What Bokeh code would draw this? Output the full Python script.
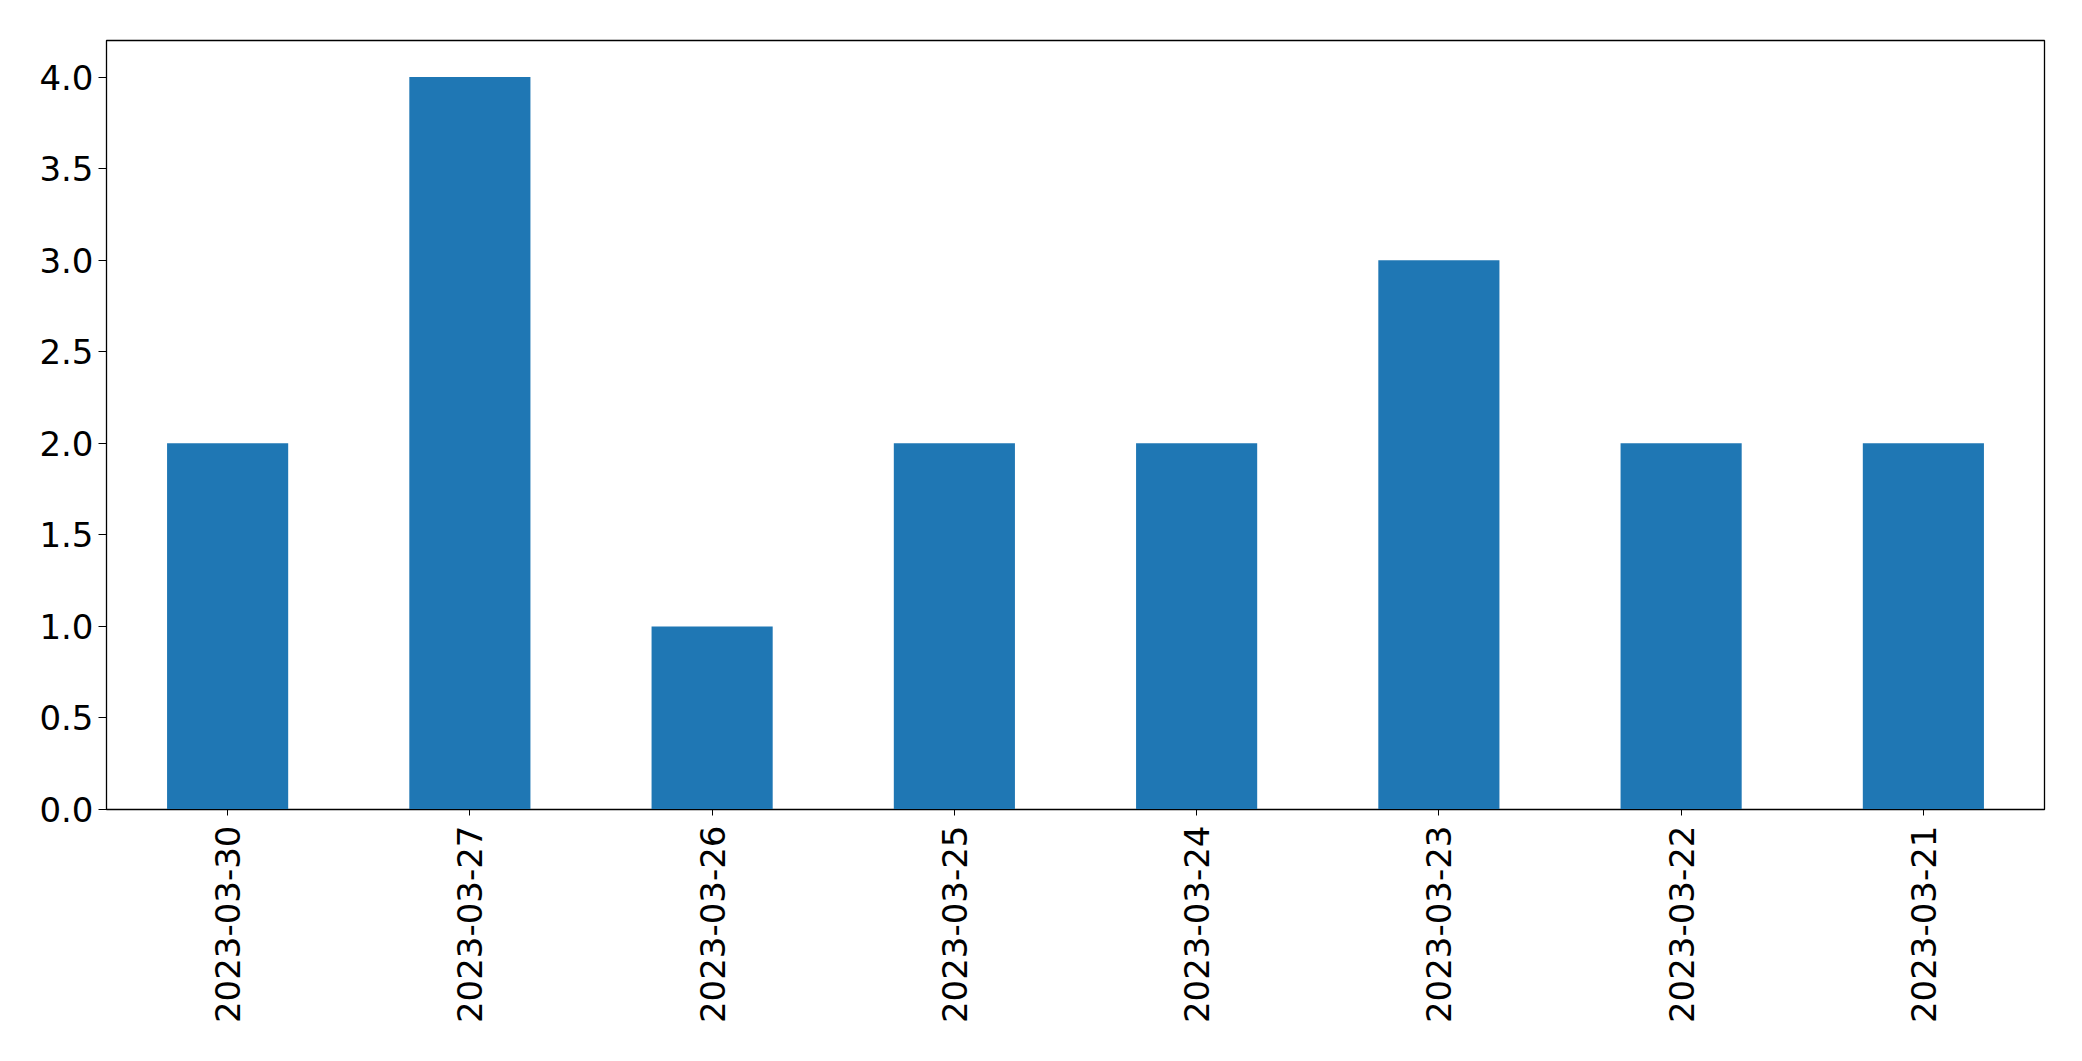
from bokeh.plotting import figure
from bokeh.models import Range1d, FactorRange, NumeralTickFormatter, FixedTicker
from bokeh.embed import file_html
from bokeh.resources import INLINE
import math

dates = ["2023-03-30", "2023-03-27", "2023-03-26", "2023-03-25",
         "2023-03-24", "2023-03-23", "2023-03-22", "2023-03-21"]
counts = [2, 4, 1, 2, 2, 3, 2, 2]
y_ticks = [0.0, 0.5, 1.0, 1.5, 2.0, 2.5, 3.0, 3.5, 4.0]

p = figure(width=2066, height=1045, output_backend="svg", toolbar_location=None,
           x_range=FactorRange(*dates, range_padding=0), y_range=Range1d(0, 4.2),
           min_border_left=106, min_border_right=22, min_border_top=40, min_border_bottom=236)

p.vbar(x=dates, top=counts, width=0.5, fill_color="#1f77b4", line_color=None)

p.xgrid.visible = False
p.ygrid.visible = False
p.outline_line_color = "black"
p.outline_line_width = 1.3
p.outline_line_alpha = 1

for ax in (p.xaxis[0], p.yaxis[0]):
    ax.major_label_text_font = "DejaVu Sans"
    ax.major_label_text_font_size = "34px"
    ax.major_label_text_color = "black"
    ax.axis_line_color = "black"
    ax.major_tick_line_color = "black"
    ax.major_tick_in = 0
    ax.minor_tick_line_color = None

p.yaxis.ticker = FixedTicker(ticks=y_ticks)
p.yaxis.formatter = NumeralTickFormatter(format="0.0")
p.yaxis.major_tick_out = 8
p.yaxis.major_label_standoff = 5
p.xaxis.major_tick_out = 6
p.xaxis.major_label_standoff = 10
p.xaxis.major_label_orientation = math.pi / 2

open("out.html", "w").write(file_html(p, INLINE))
